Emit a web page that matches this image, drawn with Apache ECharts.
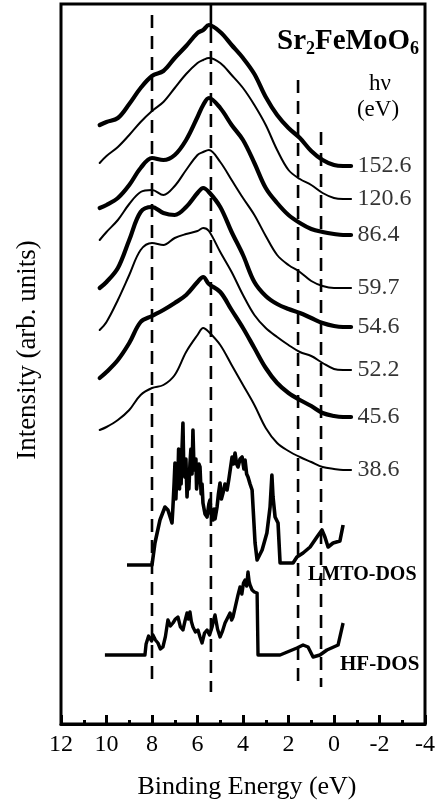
<!DOCTYPE html>
<html><head><meta charset="utf-8">
<script src="https://cdn.jsdelivr.net/npm/echarts@6/dist/echarts.min.js"></script>
<style>html,body{margin:0;padding:0;background:#fff}#c{width:439px;height:804px}</style>
</head><body><div id="c"></div>
<script>
// Binding energy grid (eV) shared by the photoemission spectra
const energyGrid = [10.3,10,9.5,9,8.5,8,7.5,7,6.5,6,5.75,5.5,5,4.5,4,3.5,3,2.5,2,1.5,1,0.5,0,-0.4,-0.75];
const photonEnergies = ['152.6','120.6','86.4','59.7','54.6','52.2','45.6','38.6'];
// spectra (offset intensity, arb. units)
const spec152_6 = [119.8,120.4,121.2,124,127.2,129.6,130.6,133.2,135.6,138.2,138.8,139.8,138.4,135.8,133.2,130,125.4,121.8,119.2,117.2,114.6,112.8,111.8,111.6,111.6];
const spec120_6 = [112.2,113.6,115.4,117.8,120.4,122.6,124.4,127.2,130,132.2,132.8,133.2,132.2,129.8,127.2,123.8,119.8,114.8,110.8,109,107.8,106.2,105.2,105,105];
const spec86_4  = [103.2,103.8,105.2,107.8,111.2,113.2,112.8,113.8,116.8,121.4,123.8,125.2,123.2,119.8,116.8,112.2,107.2,104.2,101.8,100.2,99,98.4,98,97.8,97.8];
const spec59_7  = [96.8,98.4,100.8,104,106.4,106.8,105.8,107.6,110.8,113.8,114.4,114.8,112.4,108.8,105.2,101.8,97.6,93.8,91.8,90.4,88.6,87.6,87.2,87.2,87.2];
const spec54_6  = [87.2,88.4,91.2,96.8,102.4,103.4,102.2,101.8,103.4,106.2,107.2,106.4,103.4,98.4,93.8,88.4,85.6,84,83,82.2,81.2,80.2,79.6,79.4,79.4];
const spec52_2  = [78.8,80.4,84.8,89.8,94.8,96.2,95.8,97.2,98,98.6,99.2,98.6,94.4,90.4,85.8,81.8,79.2,77.4,75.8,74.4,73.6,72.2,71,70.8,70.8];
const spec45_6  = [69.2,70.4,72.8,76.2,80.4,81.6,82.8,84.2,85.8,88.4,89.4,88,86.4,82.8,79.2,75.2,71.2,68.2,66.2,64.8,63.6,62.2,61.6,61.4,61.4];
const spec38_6  = [58.8,59.4,60.8,62.8,65.8,67.2,67.8,69.8,74.4,77.8,79.2,78.4,75.8,71.8,67.8,63.8,59.2,56.2,54.6,53.4,52.4,51.4,51,50.8,50.8];
const spectra = [spec152_6, spec120_6, spec86_4, spec59_7, spec54_6, spec52_2, spec45_6, spec38_6];
const thickSpectrum = [true,false,true,false,true,false,true,false];

// LMTO density of states
const lmtoEnergy = [9.10,8.00,7.87,7.65,7.43,7.30,7.12,7.08,7.03,6.99,6.95,6.91,6.86,6.83,6.79,6.77,6.72,6.68,6.64,6.60,6.55,6.51,6.46,6.42,6.38,6.33,6.29,6.24,6.20,6.16,6.11,6.07,6.04,5.98,5.94,5.89,5.84,5.80,5.76,5.67,5.58,5.50,5.45,5.40,5.36,5.32,5.27,5.23,5.14,5.08,5.01,4.95,4.88,4.79,4.70,4.62,4.57,4.48,4.42,4.35,4.28,4.22,4.13,4.04,3.96,3.91,3.84,3.78,3.69,3.60,3.47,3.38,3.16,2.95,2.81,2.73,2.68,2.59,2.46,2.37,1.80,1.63,1.36,1.05,0.75,0.53,0.40,0.26,0.04,-0.26,-0.40];
const lmtoDos    = [31.8,31.8,36.2,40.8,43.4,42.8,40.2,43.4,48,52.2,45,50,49.4,55,47,52.8,48,55,60.2,50,49.4,53,45.4,50,47,52.2,55,50,58.8,52,50.8,53,47,47.4,52,51.4,46,48,44.2,42,41.4,44,44.8,42,42.8,40.8,43,41,43.4,46,48.2,45,46.2,48,46.8,49,49.4,53.4,52,54.2,52,51.4,53,53.4,51,52.8,50,49.4,48,46.8,36.2,32.8,34.8,38.2,43.4,49.8,45.4,41.4,40.2,32.2,32.2,33.4,34.2,35.4,37.4,38.8,37.4,35.4,36.2,36.6,39.8];
// Hartree-Fock density of states
const hfEnergy = [10.07,8.31,8.26,8.22,8.15,8.09,8.02,7.96,7.85,7.74,7.63,7.52,7.41,7.30,7.19,7.08,6.97,6.86,6.75,6.64,6.55,6.46,6.40,6.33,6.27,6.20,6.09,5.98,5.89,5.80,5.69,5.58,5.47,5.36,5.30,5.23,5.12,5.01,4.90,4.79,4.68,4.57,4.50,4.44,4.33,4.22,4.13,4.05,3.98,3.91,3.84,3.78,3.73,3.69,3.60,3.50,3.38,3.34,2.37,1.63,1.36,1.14,0.92,0.62,0.31,-0.18,-0.40];
const hfDos    = [13.8,13.8,16,16.2,17.6,17.4,16.6,17.8,16.8,16.2,15,15.4,17.5,20.8,19.6,20.2,21,21.4,19.4,18.8,20.6,22.2,21,22.4,20.5,19.4,18.4,18.8,17.4,16.2,18.2,18.8,17.8,19.4,20.6,21.8,19,17.4,18.6,20.2,21.2,22.2,20.8,21.4,23.6,25.8,27.4,26,28.2,28.8,27.6,30.4,28.5,27.8,26.8,26.4,26.2,13.8,13.8,15.2,15.8,15.4,13.4,13.8,14.8,15.8,20.2];

// vertical guide lines
const guideEnergy = [8.0, 5.41, 1.58, 0.57];
const guideTop    = [141.8, 138.8, 128.8, 118.4];
const guideBottom = [7.4, 6.4, 7.4, 7.4];
const solidGuideTop = [144, 138.8];

const xTickLabels = [12,10,8,6,4,2,0,-2,-4];

const serif = '"Liberation Serif", "Times New Roman", serif';
const series = [];
spectra.forEach((s, i) => {
  series.push({
    type: 'line', name: photonEnergies[i], symbol: 'none', smooth: 0.35,
    data: energyGrid.map((e, k) => [e, s[k]]),
    lineStyle: { color: '#000', width: thickSpectrum[i] ? 4.2 : 2, cap: 'round', join: 'round' },
    z: 3
  });
});
// photon-energy labels at the right end of each spectrum
series.push({
  type: 'scatter', symbol: 'circle', symbolSize: 1, silent: true,
  itemStyle: { color: 'rgba(0,0,0,0)' },
  data: spectra.map((s, i) => ({ value: [energyGrid[energyGrid.length - 1], s[s.length - 1]], name: photonEnergies[i] })),
  label: { show: true, position: 'right', distance: 6, formatter: p => p.name, color: '#000', fontSize: 24, fontFamily: serif },
  z: 4
});
series.push({
  type: 'line', name: 'LMTO-DOS', symbol: 'none',
  data: lmtoEnergy.map((e, k) => [e, lmtoDos[k]]),
  lineStyle: { color: '#000', width: 3.6, join: 'round' }, z: 3
});
series.push({
  type: 'line', name: 'HF-DOS', symbol: 'none',
  data: hfEnergy.map((e, k) => [e, hfDos[k]]),
  lineStyle: { color: '#000', width: 3.4, join: 'round' }, z: 3
});
guideEnergy.forEach((e, i) => {
  series.push({
    type: 'line', symbol: 'none', silent: true,
    data: [[e, guideTop[i]], [e, guideBottom[i]]],
    lineStyle: { color: '#000', width: 2.6, type: [13, 8] }, z: 2
  });
});
series.push({
  type: 'line', symbol: 'none', silent: true,
  data: [[guideEnergy[1], solidGuideTop[0]], [guideEnergy[1], solidGuideTop[1]]],
  lineStyle: { color: '#000', width: 2.6 }, z: 2
});

const chart = echarts.init(document.getElementById('c'), null, { renderer: 'canvas' });
chart.setOption({
  animation: false,
  backgroundColor: '#fff',
  grid: { left: 61, right: 14, top: 4, bottom: 80, show: true, borderColor: '#000', borderWidth: 3, backgroundColor: 'transparent' },
  xAxis: {
    type: 'value', min: -4, max: 12, interval: 2, inverse: true,
    axisLine: { show: true, lineStyle: { color: '#000', width: 3 } },
    axisTick: { show: true, inside: true, length: 9, lineStyle: { color: '#000', width: 3 } },
    minorTick: { show: true, splitNumber: 2, length: 4, lineStyle: { color: '#000', width: 3 } },
    splitLine: { show: false },
    axisLabel: { color: '#000', fontSize: 24, fontFamily: serif, margin: 9,
      formatter: v => xTickLabels.indexOf(v) >= 0 ? String(v) : '' }
  },
  yAxis: { type: 'value', min: 0, max: 144, show: false, splitLine: { show: false } },
  graphic: [
    { type: 'text', x: 28, y: 350, rotation: Math.PI / 2,
      style: { text: 'Intensity (arb. units)', fontSize: 27, fontFamily: serif, fill: '#000', align: 'center', verticalAlign: 'middle' } },
    { type: 'text', x: 247, y: 787,
      style: { text: 'Binding Energy (eV)', fontSize: 26, fontFamily: serif, fill: '#000', align: 'center', verticalAlign: 'middle' } },
    { type: 'text', x: 277, y: 25,
      style: { text: '{b|Sr}{s|2}{b|FeMoO}{s|6}', fill: '#000', align: 'left', verticalAlign: 'top',
        rich: { b: { fontSize: 29, fontWeight: 'bold', fontFamily: serif, lineHeight: 33 },
                s: { fontSize: 18, fontWeight: 'bold', fontFamily: serif, verticalAlign: 'bottom', lineHeight: 17 } } } },
    { type: 'text', x: 380, y: 84,
      style: { text: 'h\u03bd', fontSize: 23, fontFamily: serif, fill: '#000', align: 'center', verticalAlign: 'middle' } },
    { type: 'text', x: 378, y: 110,
      style: { text: '(eV)', fontSize: 23, fontFamily: serif, fill: '#000', align: 'center', verticalAlign: 'middle' } },
    { type: 'text', x: 308, y: 575,
      style: { text: 'LMTO-DOS', fontSize: 20, fontWeight: 'bold', fontFamily: serif, fill: '#000', align: 'left', verticalAlign: 'middle' } },
    { type: 'text', x: 340, y: 665,
      style: { text: 'HF-DOS', fontSize: 21, fontWeight: 'bold', fontFamily: serif, fill: '#000', align: 'left', verticalAlign: 'middle' } }
  ],
  series: series
});
</script>
</body></html>
